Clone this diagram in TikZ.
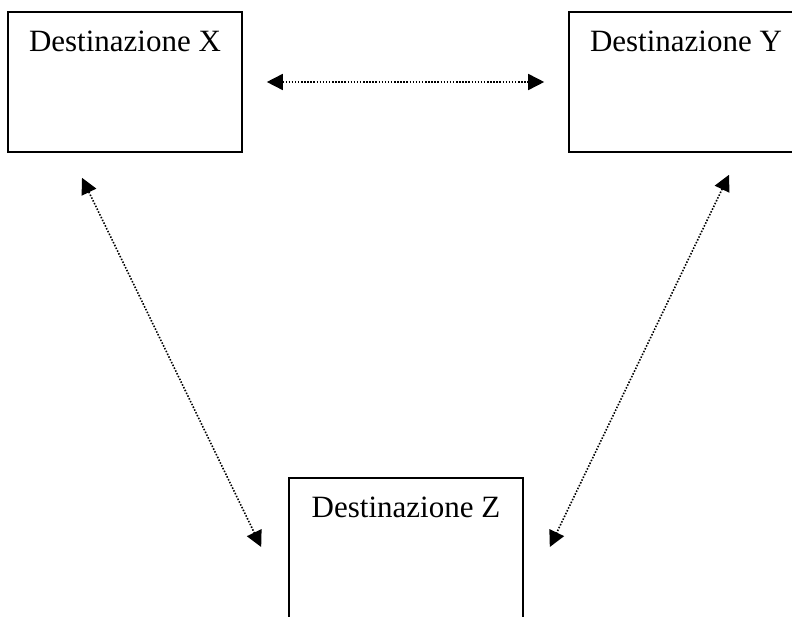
\documentclass[tikz,border=0pt]{standalone}
\usepackage{fontspec}
\setmainfont{Liberation Serif}
\usetikzlibrary{arrows.meta}
\tikzset{
  destbox/.style={draw=black, line width=1.6pt, rectangle, minimum width=234pt, minimum height=140pt, inner sep=0pt, fill=white},
  desttext/.style={anchor=base, inner sep=0pt, font=\fontsize{31}{37}\selectfont},
  conn/.style={line width=1.6pt, dash pattern=on 1.5pt off 1.6pt,
    {Triangle[length=16pt,width=16pt]}-{Triangle[length=16pt,width=16pt]}}
}
\begin{document}
\begin{tikzpicture}[x=1pt,y=-1pt]
\useasboundingbox[fill=white] (0,0) rectangle (792,617);
\node[destbox] (X) at (125,82) {};
\node[destbox] (Y) at (686,82) {};
\node[destbox] (Z) at (406,548) {};
\node[desttext] (Xt) at ([yshift=-40pt]X.north) {Destinazione X};
\node[desttext] (Yt) at ([yshift=-40pt]Y.north) {Destinazione Y};
\node[desttext] (Zt) at ([yshift=-40pt]Z.north) {Destinazione Z};
\draw[conn] ([xshift=24pt]X.east) -- ([xshift=-24pt]Y.west);
\draw[conn] ([shift={(-43,25)}]X.south) -- ([shift={(-27,-1)}]Z.west);
\draw[conn] ([shift={(43,22)}]Y.south) -- ([shift={(26,-1)}]Z.east);
\end{tikzpicture}
\end{document}
